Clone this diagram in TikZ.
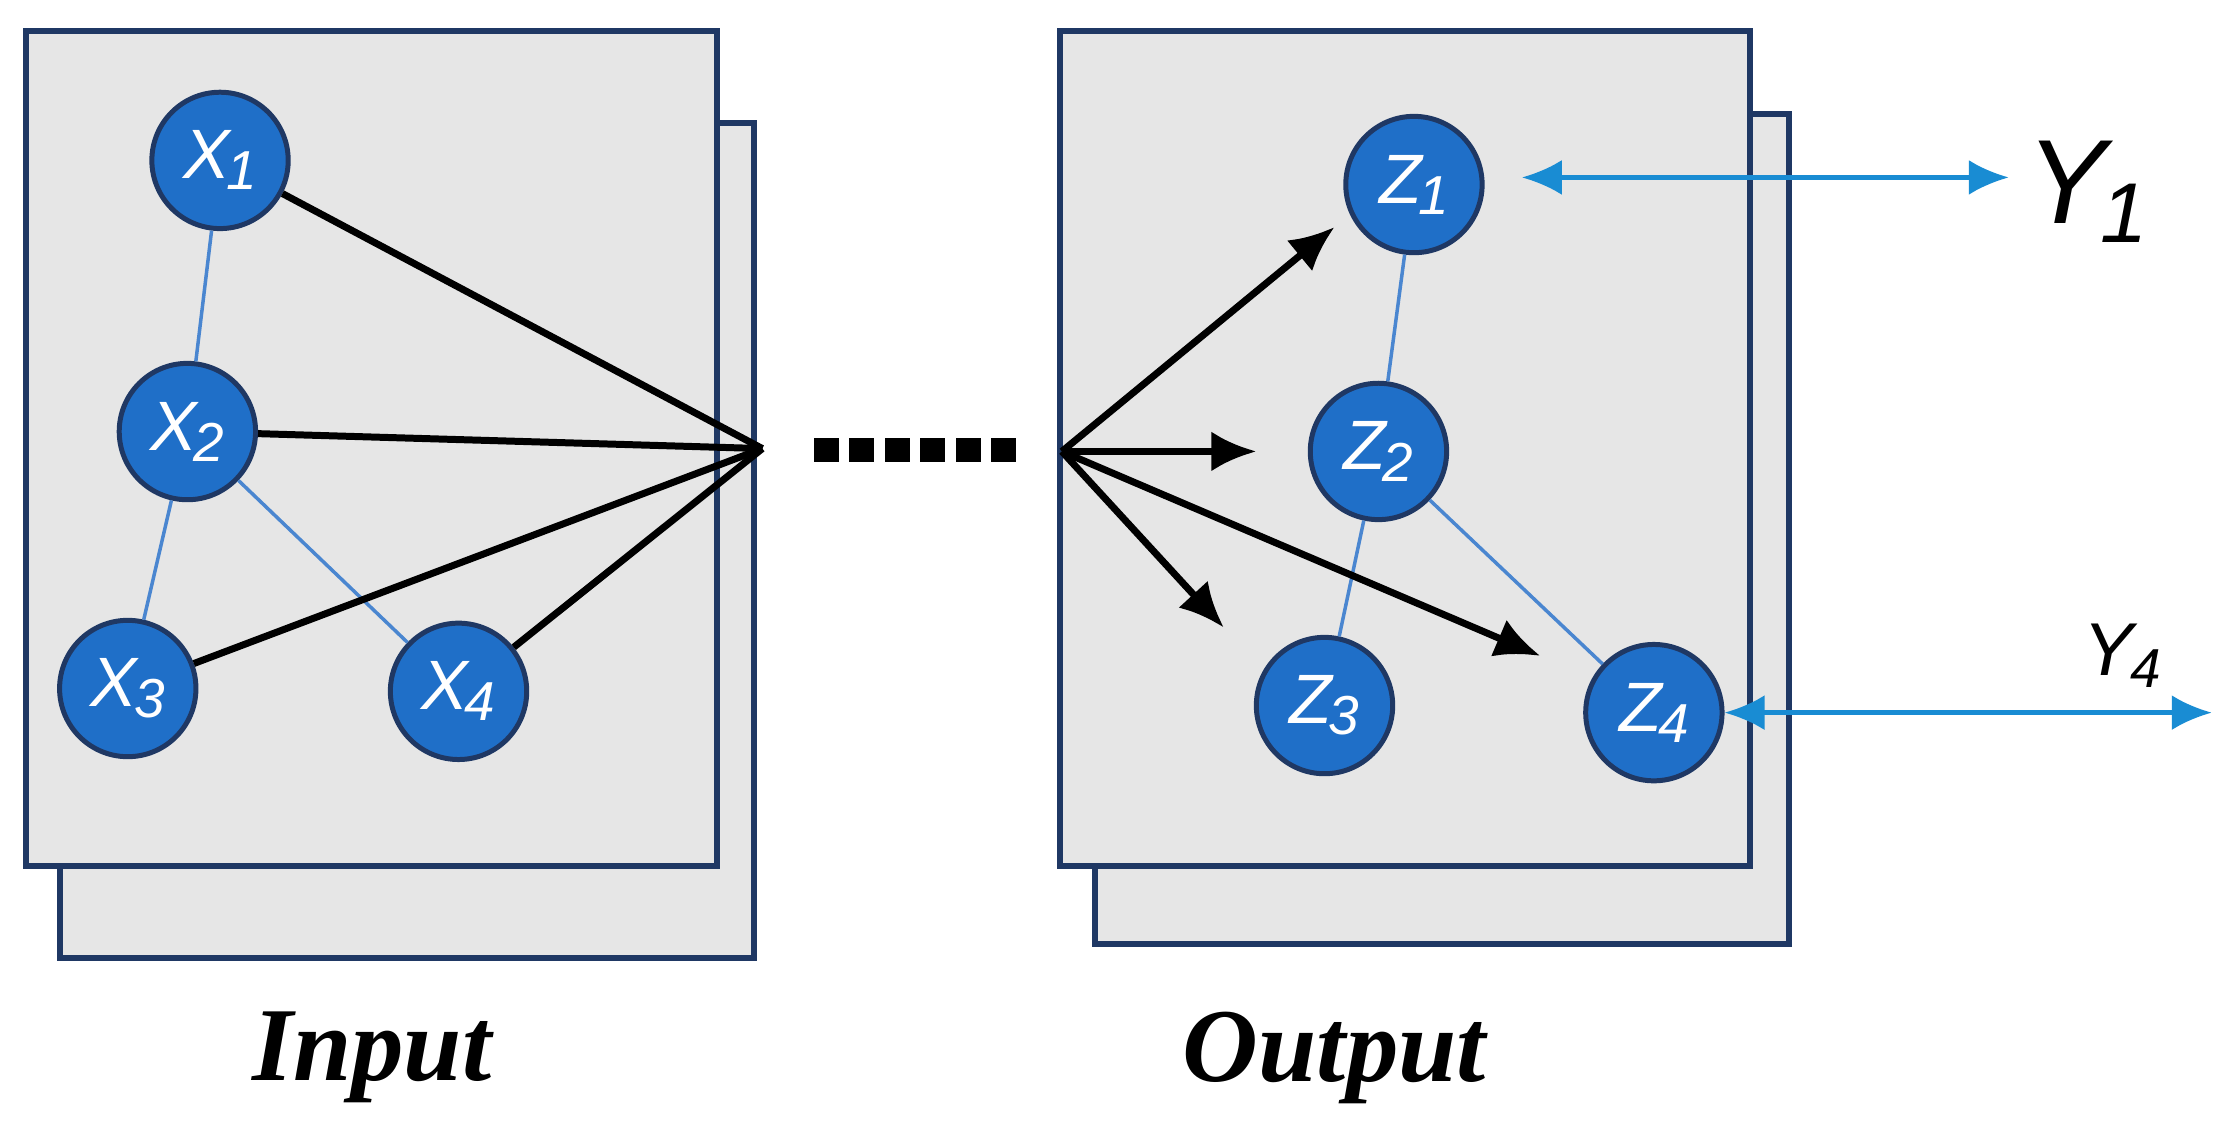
\documentclass[tikz,border=0pt]{standalone}
\usepackage{fontspec}
\setmainfont{Liberation Serif}
\newfontfamily\arialf{Liberation Sans}
\usetikzlibrary{arrows.meta}
\definecolor{navy}{HTML}{1F3864}
\definecolor{nodeblue}{HTML}{1F6FC8}
\definecolor{lineblue}{HTML}{4A86D0}
\definecolor{panel}{HTML}{E6E6E6}
\begin{document}
\begin{tikzpicture}[x=0.01cm,y=-0.01cm,
  panel/.style={draw=navy,fill=panel,line width=1.2pt},
  nd/.style={circle,draw=navy,line width=1pt,fill=nodeblue,minimum size=0.96cm,inner sep=0pt,text=white,font=\arialf\itshape\fontsize{14}{14}\selectfont},
  blk/.style={line width=1.4pt,black},
  arr/.style={blk,-{Latex[length=9pt,width=8pt]}},
  thin/.style={lineblue,line width=0.7pt},
  dbl/.style={draw=nodeblue!80!cyan,line width=0.9pt,{Latex[length=8pt,width=7pt]}-{Latex[length=8pt,width=7pt]}},
  dot/.style={fill=black,minimum size=5pt,inner sep=0pt},
  lbl/.style={font=\bfseries\itshape\fontsize{21}{21}\selectfont}]
\useasboundingbox (0,0) rectangle (1568,798);
\draw[panel] (42,87) rectangle (531,675);
\draw[panel] (18,22) rectangle (505,610);
\draw[panel] (771,80) rectangle (1260,665);
\draw[panel] (747,22) rectangle (1233,610);
\newcommand{\sbs}[1]{\kern-0.05em\raisebox{-0.3ex}{\fontsize{11}{11}\selectfont #1}}
\node[nd] (x1) at (155,113) {X\sbs{1}};
\node[nd] (x2) at (132,304) {X\sbs{2}};
\node[nd] (x3) at (90,485) {X\sbs{3}};
\node[nd] (x4) at (323,487) {X\sbs{4}};
\node[nd] (z1) at (996,130) {Z\sbs{1}};
\node[nd] (z2) at (971,318) {Z\sbs{2}};
\node[nd] (z3) at (933,497) {Z\sbs{3}};
\node[nd] (z4) at (1165,502) {Z\sbs{4}};
\draw[thin] (x1)--(x2); \draw[thin] (x2)--(x3); \draw[thin] (x2)--(x4);
\draw[thin] (z1)--(z2); \draw[thin] (z2)--(z3); \draw[thin] (z2)--(z4);
\coordinate (p) at (537,316);
\coordinate (q) at (748,318);
\foreach \n in {x1,x2,x3,x4} \draw[blk] (\n)--(p);
\foreach \i in {0,...,5} \node[dot] (d\i) at (582+\i*25,317) {};
\coordinate (a1) at (940,160); \coordinate (a2) at (885,318);
\coordinate (a3) at (862,442); \coordinate (a4) at (1085,462);
\foreach \t in {a1,a2,a3,a4} \draw[arr] (q)--(\t);
\coordinate (y1s) at (1072,125); \coordinate (y1e) at (1415,125);
\draw[dbl] (y1s)--(y1e);
\node (y1) at (1470,135) {\arialf\itshape\fontsize{24}{24}\selectfont Y\kern-0.05em\raisebox{-0.3ex}{\fontsize{17}{17}\selectfont 1}};
\coordinate (y4e) at (1558,502);
\draw[dbl] (z4.east)--(y4e);
\node (y4) at (1495,462) {\arialf\itshape\fontsize{15}{15}\selectfont Y\kern-0.05em\raisebox{-0.3ex}{\fontsize{11}{11}\selectfont 4}};
\node[lbl] (in) at (262,745) {Input};
\node[lbl] (out) at (940,745) {Output};
\end{tikzpicture}
\end{document}
